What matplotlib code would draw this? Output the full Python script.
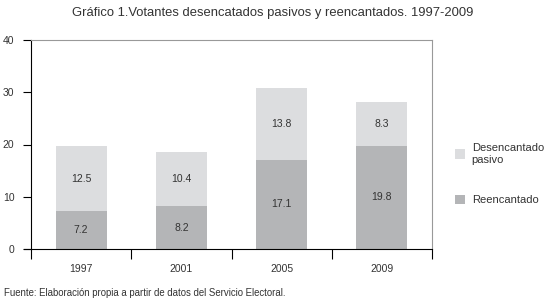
import matplotlib
matplotlib.use('Agg')
import matplotlib.pyplot as plt
import numpy as np

plt.rcParams['font.family'] = ['Liberation Sans', 'DejaVu Sans']

years = ['1997', '2001', '2005', '2009']
reencantado = [7.2, 8.2, 17.1, 19.8]
desencantado = [12.5, 10.4, 13.8, 8.3]

col_light = '#dcdddf'
col_dark = '#b4b5b7'
txt = '#333333'

fig = plt.figure(figsize=(5.46, 3.03), dpi=100)
ax = fig.add_axes([31 / 546, 54 / 303, 401 / 546, 209 / 303])

x = np.arange(len(years))
w = 0.51
ax.bar(x, reencantado, width=w, color=col_dark, label='Reencantado')
ax.bar(x, desencantado, width=w, bottom=reencantado, color=col_light,
       label='Desencantado\npasivo')

# value labels in the middle of each segment
for i in range(len(years)):
    ax.text(x[i], reencantado[i] / 2, f'{reencantado[i]:.1f}', ha='center', va='center',
            fontsize=7.5, color=txt)
    ax.text(x[i], reencantado[i] + desencantado[i] / 2, f'{desencantado[i]:.1f}',
            ha='center', va='center', fontsize=7.5, color=txt)

ax.set_xlim(-0.5, 3.5)
ax.set_ylim(0, 40)
ax.set_yticks([0, 10, 20, 30, 40])
ax.set_xticks(np.arange(-0.5, 4, 1))
ax.set_xticklabels([])
ax.set_xticks(x, minor=True)
ax.set_xticklabels(years, minor=True)
ax.tick_params(axis='x', which='major', length=7, width=0.8, direction='out', color='black')
ax.tick_params(axis='x', which='minor', length=0, pad=11, labelsize=7.5, labelcolor=txt)
ax.tick_params(axis='y', length=6, width=0.8, labelsize=7.5, labelcolor=txt, pad=6)

ax.spines['left'].set_color('black')
ax.spines['bottom'].set_color('black')
ax.spines['bottom'].set_bounds(-0.57, 3.5)
ax.spines['top'].set_color('#999999')
ax.spines['right'].set_color('#999999')
for s in ax.spines.values():
    s.set_linewidth(0.8)

# legend
handles, labels = ax.get_legend_handles_labels()
fig.legend(handles[::-1], labels[::-1], loc='upper left', bbox_to_anchor=(445 / 546, 1 - 133 / 303),
           frameon=False, fontsize=8, labelcolor=txt, handlelength=0.9, handleheight=0.9,
           labelspacing=2.7, handletextpad=0.6)

fig.text(0.5, 1 - 13 / 303, 'Gráfico 1.Votantes desencatados pasivos y reencantados. 1997-2009',
         ha='center', va='center', fontsize=9.4, color=txt)
fig.text(4 / 546, 1 - 293 / 303, 'Fuente: Elaboración propia a partir de datos del Servicio Electoral.',
         ha='left', va='center', fontsize=6.9, color=txt)

fig.savefig('out.png', dpi=100)
